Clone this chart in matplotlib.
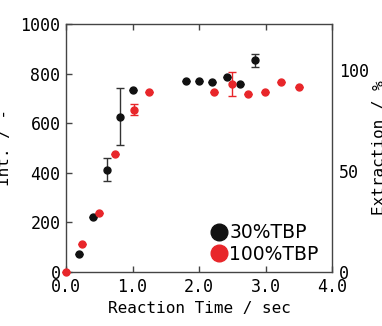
import numpy as np
import matplotlib.pyplot as plt

# 30% TBP (black)
t30 = [0.2, 0.41, 0.62, 0.81, 1.01, 1.81, 2.0, 2.2, 2.42, 2.62, 2.84]
i30 = [74, 220, 413, 627, 735, 771, 769, 767, 785, 760, 853]
e30 = [0, 0, 48, 115, 0, 0, 0, 0, 0, 0, 27]

# 100% TBP (red)
t100 = [0.0, 0.24, 0.5, 0.74, 1.02, 1.25, 2.22, 2.49, 2.73, 2.99, 3.24, 3.5]
i100 = [0, 111, 236, 475, 655, 727, 724, 758, 719, 727, 765, 744]
e100 = [0, 0, 0, 0, 23, 0, 0, 47, 0, 0, 0, 0]

xticks = [0, 1, 2, 3, 4]
xticklabels = ['0.0', '1.0', '2.0', '3.0', '4.0']
yticks = [0, 200, 400, 600, 800, 1000]
rticks = [0, 50, 100]
full_scale = 813  # left value that matches 100 % on the right axis

black = '#111111'
red = '#e8262a'
spine_c = '#444444'
mono = 'DejaVu Sans Mono'

fig = plt.figure(figsize=(3.82, 3.26), dpi=100)
ax = fig.add_axes([66/382, 1-272/326, 266/382, 248/326])

ax.errorbar(t30, i30, yerr=e30, fmt='o', color=black, ecolor='#333333',
            markersize=5, capsize=3, elinewidth=1, capthick=1, clip_on=False, zorder=3)
ax.errorbar(t100, i100, yerr=e100, fmt='o', color=red, ecolor=red,
            markersize=5, capsize=3, elinewidth=1, capthick=1, clip_on=False, zorder=3)

ax.set_xlim(0, 4)
ax.set_ylim(0, 1000)
ax.set_xticks(xticks)
ax.set_xticklabels(xticklabels)
ax.set_yticks(yticks)
ax.tick_params(direction='in', length=4.5, width=1, color=spine_c,
               labelsize=12, pad=4, top=True)
for lab in ax.get_xticklabels() + ax.get_yticklabels():
    lab.set_family(mono)
for s in ax.spines.values():
    s.set_color(spine_c)
    s.set_linewidth(1)

ax.set_xlabel('Reaction Time / sec', family=mono, fontsize=11.5)
ax.set_ylabel('Int. / -', family=mono, fontsize=11.5)
ax.yaxis.set_label_coords(-0.203, 0.5)

ax2 = ax.twinx()
ax2.set_ylim(0, 1000 / full_scale * 100)
ax2.set_yticks(rticks)
ax2.tick_params(length=0, labelsize=12, pad=5)
for lab in ax2.get_yticklabels():
    lab.set_family(mono)
for s in ax2.spines.values():
    s.set_visible(False)
ax2.set_ylabel('Extraction / %', family=mono, fontsize=11.5)
ax2.yaxis.set_label_coords(1.15, 0.5)

h1 = plt.Line2D([], [], ls='', marker='o', color=black, markersize=12)
h2 = plt.Line2D([], [], ls='', marker='o', color=red, markersize=12)
ax.legend([h1, h2], ['30%TBP', '100%TBP'], loc='upper left',
          bbox_to_anchor=(0.505, 0.235), frameon=False, fontsize=13.5,
          handlelength=1.0, handletextpad=0.05, borderpad=0, labelspacing=0.15)

fig.savefig('out.png', dpi=100)
